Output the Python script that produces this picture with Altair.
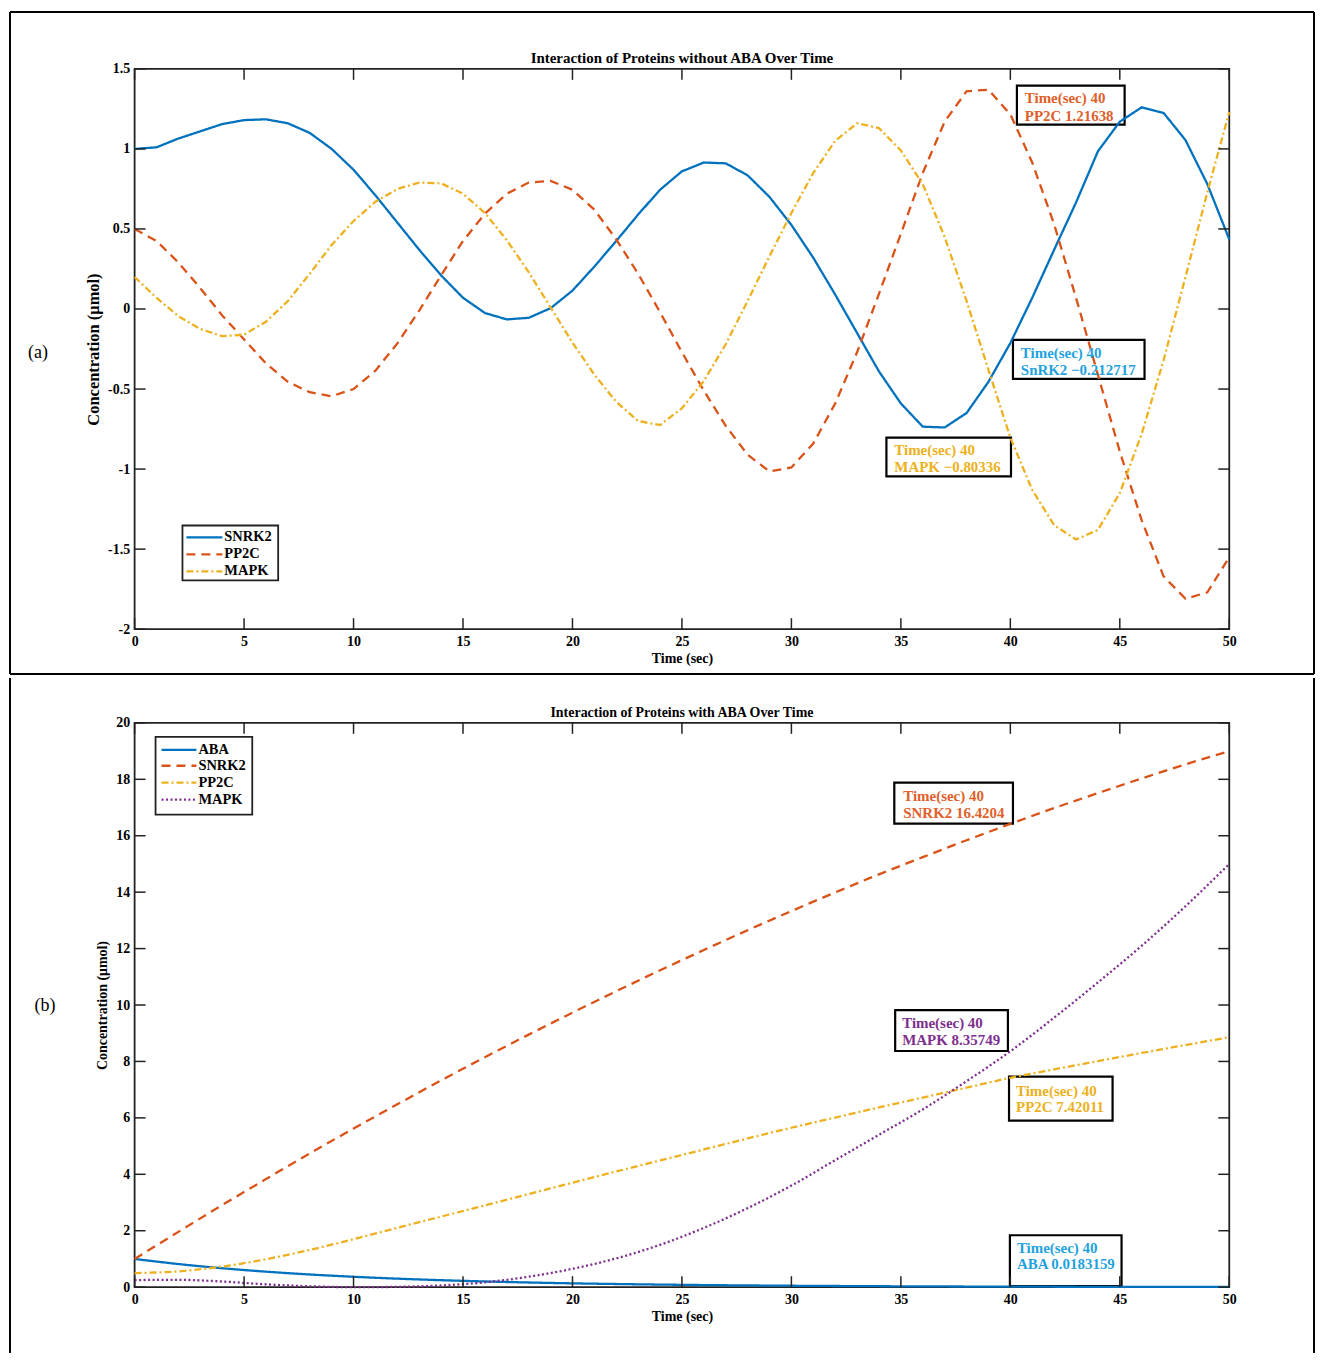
import altair as alt
import pandas as pd

# ---------------- data: panel (a) ----------------
TIME_A = list(range(0, 51))
SNRK2_A = [1.00, 1.01, 1.065, 1.11, 1.155, 1.18, 1.185, 1.16, 1.10, 1.00,
           0.87, 0.71, 0.54, 0.37, 0.21, 0.07, -0.025, -0.065, -0.055, 0.005,
           0.115, 0.265, 0.425, 0.59, 0.745, 0.86, 0.915, 0.91, 0.835, 0.70,
           0.525, 0.32, 0.09, -0.15, -0.39, -0.59, -0.735, -0.74, -0.65, -0.455,
           -0.213, 0.07, 0.37, 0.665, 0.985, 1.17, 1.26, 1.225, 1.055, 0.78, 0.435]
PP2C_A = [0.50, 0.425, 0.29, 0.13, -0.04, -0.19, -0.34, -0.455, -0.52, -0.545,
          -0.50, -0.385, -0.215, -0.01, 0.21, 0.425, 0.595, 0.72, 0.79, 0.80,
          0.745, 0.62, 0.435, 0.22, -0.02, -0.27, -0.51, -0.73, -0.91, -1.015,
          -0.99, -0.84, -0.59, -0.27, 0.095, 0.47, 0.85, 1.17, 1.36, 1.37,
          1.216, 0.915, 0.53, 0.07, -0.41, -0.89, -1.32, -1.67, -1.81, -1.77, -1.55]
MAPK_A = [0.20, 0.07, -0.045, -0.125, -0.17, -0.16, -0.08, 0.05, 0.22, 0.40,
          0.55, 0.67, 0.75, 0.79, 0.785, 0.72, 0.60, 0.43, 0.23, 0.01,
          -0.21, -0.41, -0.58, -0.70, -0.725, -0.62, -0.45, -0.22, 0.05, 0.33,
          0.60, 0.85, 1.05, 1.16, 1.13, 0.99, 0.78, 0.45, 0.05, -0.38,
          -0.803, -1.13, -1.35, -1.44, -1.38, -1.15, -0.78, -0.32, 0.20, 0.73, 1.23]

# ---------------- data: panel (b) ----------------
TIME_B = list(range(0, 51, 2))
ABA_B = [1.0, 0.819, 0.670, 0.549, 0.449, 0.368, 0.301, 0.247, 0.202, 0.165,
         0.135, 0.111, 0.091, 0.074, 0.061, 0.050, 0.041, 0.033, 0.027, 0.022,
         0.018, 0.015, 0.012, 0.010, 0.008, 0.007]
SNRK2_B = [1.00, 1.96, 2.91, 3.83, 4.74, 5.62, 6.48, 7.33, 8.15, 8.95,
           9.73, 10.49, 11.23, 11.95, 12.65, 13.33, 13.99, 14.63, 15.24, 15.84,
           16.42, 16.98, 17.51, 18.03, 18.53, 19.00]
PP2C_B = [0.50, 0.56, 0.73, 0.99, 1.32, 1.70, 2.10, 2.50, 2.90, 3.30,
          3.70, 4.10, 4.49, 4.88, 5.27, 5.65, 6.01, 6.37, 6.72, 7.07,
          7.42, 7.72, 8.01, 8.30, 8.58, 8.86]
MAPK_B = [0.25, 0.26, 0.20, 0.10, 0.03, 0.00, 0.01, 0.06, 0.17, 0.37,
          0.65, 1.02, 1.50, 2.10, 2.80, 3.60, 4.50, 5.40, 6.30, 7.30,
          8.36, 9.55, 10.80, 12.10, 13.50, 15.00]

X_TICKS = [0, 5, 10, 15, 20, 25, 30, 35, 40, 45, 50]
Y_TICKS_A = [-2, -1.5, -1, -0.5, 0, 0.5, 1, 1.5]
Y_TICKS_B = [0, 2, 4, 6, 8, 10, 12, 14, 16, 18, 20]

SERIES_A = ["SNRK2", "PP2C", "MAPK"]
COLORS_A = ["#0072BD", "#D95319", "#EDB120"]
DASHES_A = [[1, 0], [9, 6], [7, 3, 2, 3]]

SERIES_B = ["ABA", "SNRK2", "PP2C", "MAPK"]
COLORS_B = ["#0072BD", "#D95319", "#EDB120", "#7E2F8E"]
DASHES_B = [[1, 0], [9, 6], [7, 3, 2, 3], [2, 2.5]]

TITLE_A = "Interaction of Proteins without ABA Over Time"
TITLE_B = "Interaction of Proteins with ABA Over Time"
X_TITLE = "Time (sec)"
Y_TITLE = "Concentration (\u03bcmol)"

# datatip boxes: line1, line2, colour, box x1, x2, y1, y2, text x, text y1, text y2 (data units)
ANN_A = [
    ("Time(sec) 40", "PP2C 1.21638", "#E0602A", 40.30, 45.22, 1.395, 1.152, 40.66, 1.320, 1.208),
    ("Time(sec) 40", "SnRK2 \u22120.212717", "#1FA2DE", 40.12, 46.13, -0.193, -0.436, 40.48, -0.274, -0.380),
    ("Time(sec) 40", "MAPK \u22120.80336", "#EDB120", 34.34, 40.03, -0.803, -1.046, 34.70, -0.884, -0.990),
]
ANN_B = [
    ("Time(sec) 40", "SNRK2 16.4204", "#E0602A", 34.70, 40.12, 17.88, 16.43, 35.11, 17.42, 16.82),
    ("Time(sec) 40", "MAPK 8.35749", "#7E2F8E", 34.74, 39.89, 9.82, 8.37, 35.06, 9.36, 8.76),
    ("Time(sec) 40", "PP2C 7.42011", "#EDB120", 39.94, 44.67, 7.46, 5.90, 40.26, 6.96, 6.40),
    ("Time(sec) 40", "ABA 0.0183159", "#1FA2DE", 39.98, 45.08, 1.84, 0.04, 40.30, 1.38, 0.81),
]

FONT = "Liberation Serif"
W = 1098
HA = 562
HB = 566


def long_frame(times, names, series):
    rows = []
    for name, vals in zip(names, series):
        for t, v in zip(times, vals):
            rows.append({"t": t, "v": v, "s": name})
    return pd.DataFrame(rows)


def panel(times, names, series, colors, dashes, ydom, yticks, H, title, ann,
          tag, leg, interp, frame, title_size, ytitle_size):
    xs = alt.Scale(domain=[0, 50], nice=False, zero=False)
    ys = alt.Scale(domain=ydom, nice=False, zero=False)
    xax = alt.Axis(values=X_TICKS, title=X_TITLE, labelExpr="datum.value + ''")
    yax = alt.Axis(values=yticks, title=Y_TITLE, labelExpr="datum.value + ''",
                   titleFontSize=ytitle_size)

    def X(f):
        return alt.X(f + ":Q", scale=xs, axis=xax)

    def Y(f):
        return alt.Y(f + ":Q", scale=ys, axis=yax)

    df = long_frame(times, names, series)
    lines = alt.Chart(df).mark_line(strokeWidth=2.3, interpolate=interp).encode(
        x=X("t"), y=Y("v"),
        color=alt.Color("s:N", sort=names,
                        scale=alt.Scale(domain=names, range=colors), legend=None),
        strokeDash=alt.StrokeDash("s:N", sort=names,
                                  scale=alt.Scale(domain=names, range=dashes), legend=None),
    )

    layers = []
    box_df = pd.DataFrame([{"x1": a[3], "x2": a[4], "y1": a[5], "y2": a[6]} for a in ann])
    layers.append(alt.Chart(box_df).mark_rect(fill="white", stroke="black", strokeWidth=2.2).encode(
        x=X("x1"), x2="x2", y=Y("y1"), y2="y2"))
    layers.append(lines)
    for a in ann:
        tdf = pd.DataFrame({"tx": [a[7], a[7]], "ty": [a[8], a[9]], "label": [a[0], a[1]]})
        layers.append(alt.Chart(tdf).mark_text(
            align="left", baseline="middle", font=FONT, fontWeight="bold",
            fontSize=15, color=a[2]).encode(x=X("tx"), y=Y("ty"), text="label:N"))

    # inward ticks on all four sides
    xt = pd.DataFrame({"tick": X_TICKS})
    yt = pd.DataFrame({"tick": yticks})
    tk = dict(color="#222", strokeWidth=1.5)
    layers.append(alt.Chart(xt).mark_rule(**tk).encode(x=X("tick"), y=alt.value(0), y2=alt.value(11)))
    layers.append(alt.Chart(xt).mark_rule(**tk).encode(x=X("tick"), y=alt.value(H - 11), y2=alt.value(H)))
    layers.append(alt.Chart(yt).mark_rule(**tk).encode(y=Y("tick"), x=alt.value(0), x2=alt.value(11)))
    layers.append(alt.Chart(yt).mark_rule(**tk).encode(y=Y("tick"), x=alt.value(W - 11), x2=alt.value(W)))

    # legend (drawn by hand: box, sample strokes, labels)
    bx1, bx2, by1, by2, lx1, lx2, rows = leg
    layers.append(alt.Chart(pd.DataFrame({"k": [0]})).mark_rect(
        fill="white", stroke="#222", strokeWidth=1.8).encode(
        x=alt.value(bx1), x2=alt.value(bx2), y=alt.value(by1), y2=alt.value(by2)))
    for name, col, dash, ry in zip(names, colors, dashes, rows):
        layers.append(alt.Chart(pd.DataFrame({"label": [name]})).mark_rule(
            color=col, strokeDash=dash, strokeWidth=2.3).encode(
            x=alt.value(lx1), x2=alt.value(lx2), y=alt.value(ry)))
        layers.append(alt.Chart(pd.DataFrame({"label": [name]})).mark_text(
            align="left", baseline="middle", font=FONT, fontWeight="bold",
            fontSize=14.5, color="black").encode(
            x=alt.value(lx2 + 2), y=alt.value(ry), text="label:N"))

    # title and panel tag
    layers.append(alt.Chart(pd.DataFrame({"label": [title]})).mark_text(
        font=FONT, fontWeight="bold", fontSize=title_size, baseline="bottom", color="black"
    ).encode(x=alt.value(W / 2), y=alt.value(-3), text="label:N"))
    layers.append(alt.Chart(pd.DataFrame({"label": [tag[0]]})).mark_text(
        font=FONT, fontSize=18, baseline="middle", align="center", color="black"
    ).encode(x=alt.value(tag[1]), y=alt.value(tag[2]), text="label:N"))

    # outer figure frame pieces
    fr = dict(color="black", strokeWidth=2)
    for f in frame:
        enc = {k: alt.value(v) for k, v in f.items()}
        layers.append(alt.Chart(pd.DataFrame({"k": [0]})).mark_rule(**fr).encode(**enc))

    return alt.layer(*layers).properties(width=W, height=H)


top = panel(TIME_A, SERIES_A, [SNRK2_A, PP2C_A, MAPK_A], COLORS_A, DASHES_A,
            [-2, 1.5], Y_TICKS_A, HA, TITLE_A, ANN_A, ("(a)", -97, 285),
            (48, 144, 458, 513, 52, 88, [470, 487, 504]), "linear",
            [dict(x=-125, x2=1183, y=-57),
             dict(x=-125, y=-57, y2=607),
             dict(x=1183, y=-57, y2=607),
             dict(x=-125, x2=1183, y=607)], 15, 16.5)

bottom = panel(TIME_B, SERIES_B, [ABA_B, SNRK2_B, PP2C_B, MAPK_B], COLORS_B, DASHES_B,
               [0, 20], Y_TICKS_B, HB, TITLE_B, ANN_B, ("(b)", -90, 284),
               (21, 118, 14, 92, 27, 62, [27, 43, 60, 77]), "monotone",
               [dict(x=-125, y=-45, y2=632),
                dict(x=1183, y=-45, y2=632)], 14, 14)

chart = alt.vconcat(top, bottom, spacing=0).resolve_scale(
    color="independent", strokeDash="independent"
).properties(padding=0, background="white").configure_view(
    stroke="#222", strokeWidth=1.8
).configure_axis(
    labelFont=FONT, labelFontWeight="bold", labelFontSize=14, labelColor="black",
    titleFont=FONT, titleFontWeight="bold", titleFontSize=14, titleColor="black",
    ticks=False, domain=False, grid=False, labelFlush=False
).configure_axisX(labelPadding=5, titlePadding=3).configure_axisY(
    labelPadding=5, titlePadding=6)

chart.save("out.html", embed_options={"renderer": "svg", "actions": False})
